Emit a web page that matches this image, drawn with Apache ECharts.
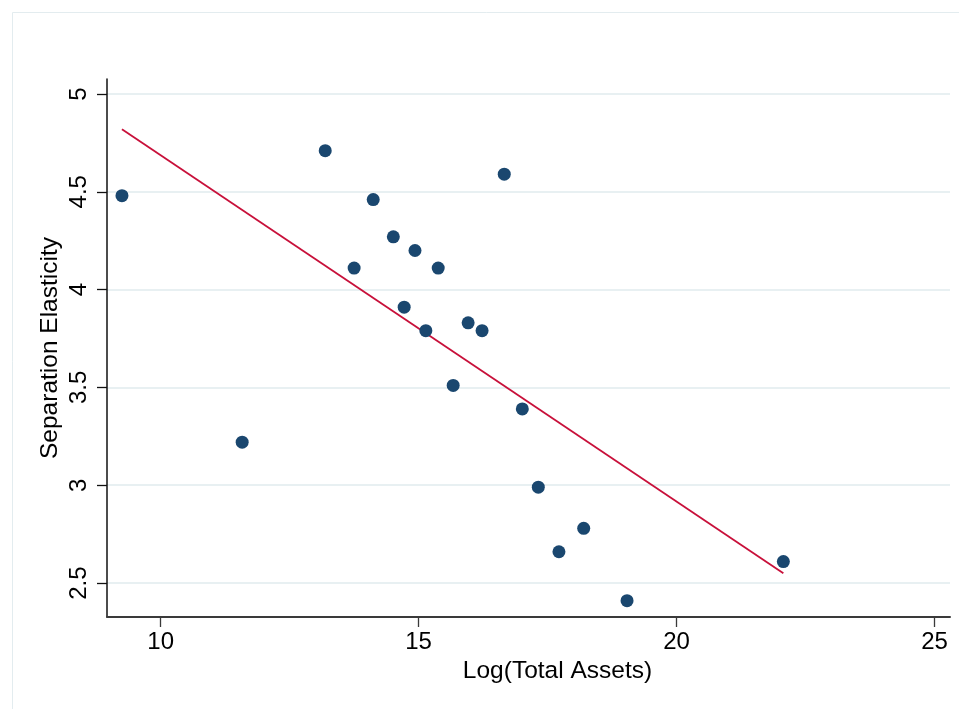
<!DOCTYPE html>
<html>
<head>
<meta charset="utf-8">
<script src="https://cdn.jsdelivr.net/npm/echarts@6/dist/echarts.min.js"></script>
<style>
html,body{margin:0;padding:0;background:#fff;}
#chart{width:959px;height:709px;}
</style>
</head>
<body>
<div id="chart"></div>
<script>
// Data
const logAssets = [9.25, 11.58, 13.19, 13.75, 14.12, 14.51, 14.72, 14.93, 15.14, 15.38, 15.67, 15.96, 16.23, 16.66, 17.01, 17.32, 17.72, 18.20, 19.04, 22.07];
const elasticity = [4.48, 3.22, 4.71, 4.11, 4.46, 4.27, 3.91, 4.20, 3.79, 4.11, 3.51, 3.83, 3.79, 4.59, 3.39, 2.99, 2.66, 2.78, 2.41, 2.61];
const fitX = [9.25, 22.07];
const fitY = [4.82, 2.55];
const xTicks = [10, 15, 20, 25];
const yTicks = [2.5, 3, 3.5, 4, 4.5, 5];
const xTitle = 'Log(Total Assets)';
const yTitle = 'Separation Elasticity';

const FONT = "'Liberation Sans', Arial, Helvetica, sans-serif";
const chart = echarts.init(document.getElementById('chart'), null, {renderer: 'canvas'});

const scatterData = logAssets.map((x, i) => [x, elasticity[i]]);
const fitData = fitX.map((x, i) => [x, fitY[i]]);

chart.setOption({
  backgroundColor: '#ffffff',
  animation: false,
  graphic: [{
    type: 'rect',
    shape: {x: 12.5, y: 12.5, width: 1000, height: 1000},
    style: {fill: 'none', stroke: '#e3ecef', lineWidth: 1},
    silent: true,
    z: -10
  }],
  grid: {left: 107, right: 9, top: 79, bottom: 92, containLabel: false},
  xAxis: {
    type: 'value',
    min: 8.96,
    max: 25.3,
    name: xTitle,
    nameLocation: 'middle',
    nameGap: 38,
    nameTextStyle: {fontFamily: FONT, fontSize: 24.5, color: '#000', padding: [0, 0, 0, 58]},
    axisLine: {show: true, onZero: false, lineStyle: {color: '#3a3a3a', width: 2}},
    axisTick: {show: true, inside: false, length: 10, customValues: xTicks, lineStyle: {color: '#3a3a3a', width: 1.3}},
    axisLabel: {customValues: xTicks, fontFamily: FONT, fontSize: 24, color: '#000', margin: 13},
    splitLine: {show: false}
  },
  yAxis: {
    type: 'value',
    min: 2.3265,
    max: 5.0765,
    name: yTitle,
    nameLocation: 'middle',
    nameGap: 44,
    nameMoveOverlap: false,
    nameRotate: 90,
    nameTextStyle: {fontFamily: FONT, fontSize: 24.5, color: '#000'},
    axisLine: {show: true, onZero: false, lineStyle: {color: '#111', width: 1.5}},
    axisTick: {show: true, inside: false, length: 10, customValues: yTicks, lineStyle: {color: '#111', width: 1.3}},
    axisLabel: {customValues: yTicks, rotate: 90, fontFamily: FONT, fontSize: 24, color: '#000', margin: 16},
    splitLine: {show: true, lineStyle: {color: '#e8f0f2', width: 2}}
  },
  series: [
    {
      type: 'scatter',
      data: scatterData,
      symbol: 'circle',
      symbolSize: 13,
      itemStyle: {color: '#1a476f', opacity: 1},
      z: 3
    },
    {
      type: 'line',
      data: fitData,
      symbol: 'none',
      lineStyle: {color: '#c8103a', width: 1.8},
      z: 2
    }
  ]
});
</script>
</body>
</html>
